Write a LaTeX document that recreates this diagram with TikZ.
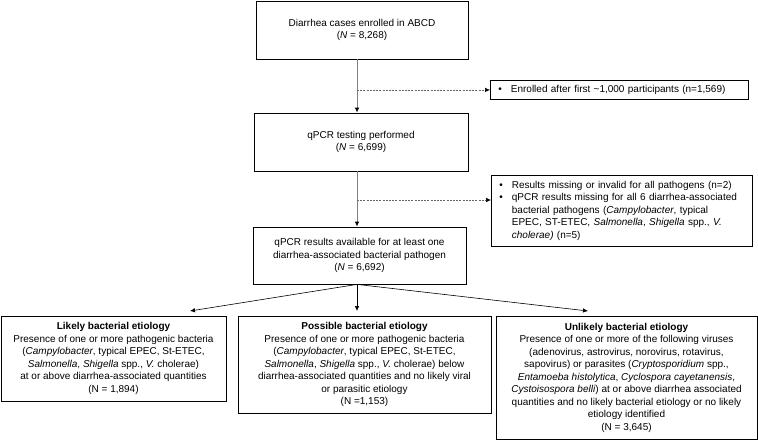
\documentclass[tikz,border=0pt]{standalone}
\usepackage{fontspec}
\setmainfont{Liberation Sans}
\usetikzlibrary{arrows.meta}
\tikzset{
  flowbox/.style={draw, line width=0.8pt, align=center, inner sep=2pt, font=\fontsize{10}{12.5}\selectfont},
  exclbox/.style={draw, line width=0.8pt, align=left, anchor=north west, inner xsep=8pt, inner ysep=2pt, font=\fontsize{10}{12.5}\selectfont},
  mainline/.style={gray, line width=0.9pt, -{Latex[length=5pt,width=4.5pt,color=black]}},
  exclline/.style={gray!80!black, line width=0.6pt, dash pattern=on 2pt off 1.2pt, -{Latex[length=5pt,width=4.5pt,color=black]}}
}
\begin{document}
\begin{tikzpicture}[x=1pt,y=-1pt]
\useasboundingbox (0,0) rectangle (758,440);

\node[flowbox, minimum width=212pt, minimum height=58pt] (enrolled) at (362,30) {Diarrhea cases enrolled in ABCD\\(\textit{N} = 8,268)};
\node[flowbox, minimum width=214pt, minimum height=58pt] (qpcr) at (361,142) {qPCR testing performed\\(\textit{N} = 6,699)};
\node[flowbox, minimum width=213pt, minimum height=57pt] (avail) at (359.5,255.5) {qPCR results available for at least one\\diarrhea-associated bacterial pathogen\\(\textit{N} = 6,692)};

\node[exclbox, text width=242pt, minimum height=19pt] (later) at (490,80) {\begin{tabular}{@{}l@{\hspace{9pt}}l@{}}\textbullet & Enrolled after first \textasciitilde1,000 participants (n=1,569)\end{tabular}};
\node[exclbox, text width=245pt, minimum height=71pt] (missing) at (491,175) {\begin{tabular}{@{}l@{\hspace{9pt}}l@{}}
\textbullet & Results missing or invalid for all pathogens (n=2)\\
\textbullet & qPCR results missing for all 6 diarrhea-associated\\
 & bacterial pathogens (\textit{Campylobacter}, typical\\
 & EPEC, ST-ETEC, \textit{Salmonella}, \textit{Shigella} spp., \textit{V.}\\
 & \textit{cholerae)} (n=5)
\end{tabular}};

\node[flowbox, minimum width=225pt, minimum height=85pt] (likely) at (113.5,358.5) {\textbf{Likely bacterial etiology}\\Presence of one or more pathogenic bacteria\\(\textit{Campylobacter}, typical EPEC, St-ETEC,\\\textit{Salmonella}, \textit{Shigella} spp., \textit{V.} cholerae)\\at or above diarrhea-associated quantities\\(N = 1,894)};
\node[flowbox, minimum width=253pt, minimum height=97pt] (possible) at (364.5,364.5) {\textbf{Possible bacterial etiology}\\Presence of one or more pathogenic bacteria\\(\textit{Campylobacter}, typical EPEC, St-ETEC,\\\textit{Salmonella}, \textit{Shigella} spp., \textit{V.} cholerae) below\\diarrhea-associated quantities and no likely viral\\or parasitic etiology\\(N =1,153)};
\node[flowbox, minimum width=261pt, minimum height=123pt] (unlikely) at (626.5,377.5) {\textbf{Unlikely bacterial etiology}\\Presence of one or more of the following viruses\\(adenovirus, astrovirus, norovirus, rotavirus,\\sapovirus) or parasites (\textit{Cryptosporidium} spp.,\\\textit{Entamoeba histolytica}, \textit{Cyclospora cayetanensis},\\\textit{Cystoisospora belli}) at or above diarrhea associated\\quantities and no likely bacterial etiology or no likely\\etiology identified\\(N = 3,645)};

\coordinate (spine) at (357,0);
\coordinate (tipL) at (190,311);
\coordinate (tipM) at (357,311);
\coordinate (tipR) at (588,311);

\draw[mainline] (enrolled.south -| spine) -- (qpcr.north -| spine);
\draw[mainline] (qpcr.south -| spine) -- (avail.north -| spine);
\draw[exclline] (spine |- later.west) -- (later.west);
\draw[exclline] (spine |- 0,200) -- (missing.west |- 0,200);

\draw[mainline, black, line width=0.6pt] (avail.south -| spine) -- (tipL);
\draw[mainline, black, line width=0.6pt] (avail.south -| spine) -- (tipM);
\draw[mainline, black, line width=0.6pt] (avail.south -| spine) -- (tipR);
\end{tikzpicture}
\end{document}
